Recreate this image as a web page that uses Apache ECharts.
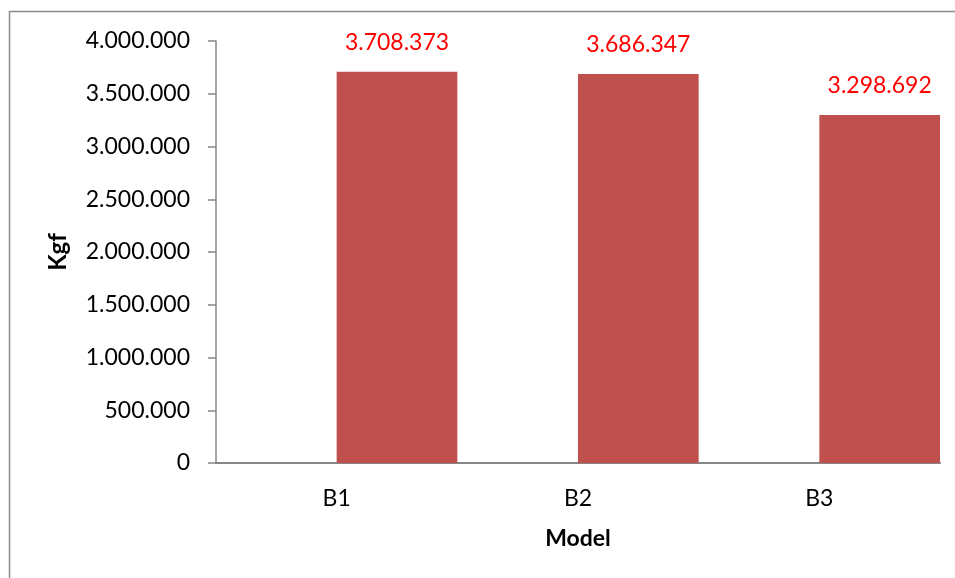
<!DOCTYPE html>
<html>
<head>
<meta charset="utf-8">
<script src="https://cdn.jsdelivr.net/npm/echarts@6/dist/echarts.min.js"></script>
<style>
  html, body { margin: 0; padding: 0; background: #fff; }
  #chart { width: 955px; height: 578px; }
</style>
</head>
<body>
<div id="chart"></div>
<script>
// Models and measured force (Kgf)
const models = ['B1', 'B2', 'B3'];
const forceKgf = [3708373, 3686347, 3298692];
// Empty companion series that keeps each bar in the right half of its slot
const emptySeries = [null, null, null];
// Value axis range
const yMin = 0;
const yMax = 4000000;
const yStep = 500000;

const FONT = 'Lato';

function dotted(v) {
  return String(Math.round(v)).replace(/\B(?=(\d{3})+(?!\d))/g, '.');
}

const chart = echarts.init(document.getElementById('chart'), null, { renderer: 'canvas' });

chart.setOption({
  animation: false,
  backgroundColor: '#ffffff',
  graphic: [{
    type: 'rect',
    shape: { x: 9.5, y: 11.5, width: 1000, height: 1000 },
    style: { fill: 'none', stroke: '#8c8c8c', lineWidth: 1.5 },
    silent: true
  }],
  grid: { left: 216, right: 15, top: 41, bottom: 115, containLabel: false },
  xAxis: {
    type: 'category',
    data: models,
    name: 'Model',
    nameLocation: 'middle',
    nameGap: 64,
    nameTextStyle: { fontFamily: FONT, fontSize: 23, fontWeight: 'bold', color: '#000' },
    axisLine: { lineStyle: { color: '#868686', width: 2 } },
    axisTick: { show: false },
    axisLabel: { margin: 24, fontFamily: FONT, fontSize: 23, color: '#000' },
    splitLine: { show: false }
  },
  yAxis: {
    type: 'value',
    min: yMin,
    max: yMax,
    interval: yStep,
    name: 'Kgf',
    nameLocation: 'middle',
    nameGap: 146,
    nameRotate: 90,
    nameTextStyle: { fontFamily: FONT, fontSize: 24, fontWeight: 'bold', color: '#000' },
    axisLine: { show: true, lineStyle: { color: '#868686', width: 1.5 } },
    axisTick: { show: true, length: 8, lineStyle: { color: '#868686', width: 1.5 } },
    axisLabel: { margin: 26, fontFamily: FONT, fontSize: 23, color: '#000', formatter: dotted },
    splitLine: { show: false }
  },
  series: [
    {
      type: 'bar',
      data: emptySeries,
      barGap: '0%',
      barCategoryGap: '0%',
      itemStyle: { color: 'transparent' },
      silent: true
    },
    {
      type: 'bar',
      data: forceKgf,
      barGap: '0%',
      barCategoryGap: '0%',
      itemStyle: { color: '#C0504D' },
      label: {
        show: true,
        position: 'top',
        distance: 18,
        color: '#FF0000',
        fontFamily: FONT,
        fontSize: 23,
        formatter: p => dotted(p.value)
      }
    }
  ]
});
</script>
</body>
</html>
